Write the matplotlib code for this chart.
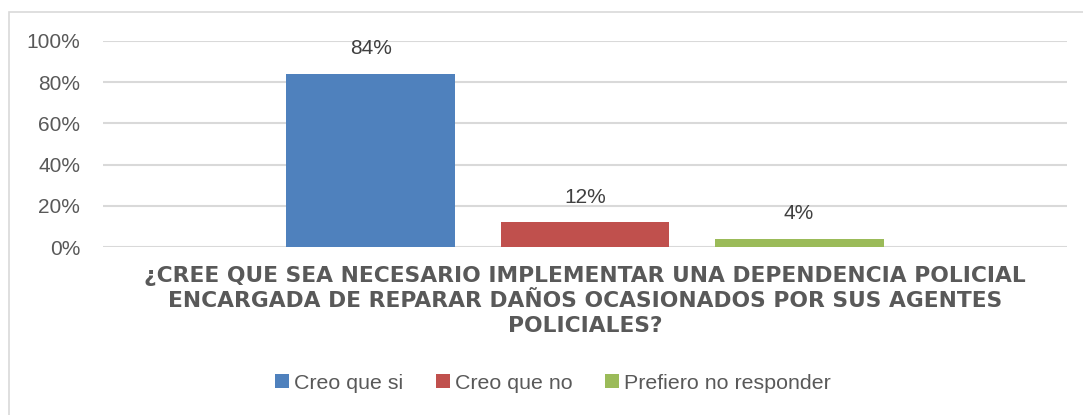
import matplotlib.pyplot as plt
from matplotlib.patches import Rectangle
from matplotlib.ticker import PercentFormatter

# data
question = ("¿CREE QUE SEA NECESARIO IMPLEMENTAR UNA DEPENDENCIA POLICIAL\n"
            "ENCARGADA DE REPARAR DAÑOS OCASIONADOS POR SUS AGENTES\n"
            "POLICIALES?")
series = ["Creo que si", "Creo que no", "Prefiero no responder"]
values = [0.84, 0.12, 0.04]
colors = ["#4F81BD", "#C0504D", "#9BBB59"]
yticks = [0, 0.2, 0.4, 0.6, 0.8, 1.0]

text_gray = "#595959"
plt.rcParams['font.family'] = ['Liberation Sans', 'DejaVu Sans']

fig = plt.figure(figsize=(10.83, 4.15), dpi=100)
fig.patches.append(Rectangle((9 / 1083, -0.05), 1.1, 1 - 12 / 415 + 0.05,
                             transform=fig.transFigure, fill=False,
                             edgecolor="#D9D9D9", linewidth=1.2))

ax = fig.add_axes([103 / 1083, 1 - 247 / 415, 964 / 1083, 206 / 415])

width = 0.1753
step = 0.222
for i, (name, val, col) in enumerate(zip(series, values, colors)):
    x = (i - 1) * step
    ax.bar(x, val, width=width, color=col, label=name, zorder=3)
    ax.annotate(f"{val:.0%}", (x, val), xytext=(0, 18), textcoords="offset points",
                ha="center", va="center", fontsize=15, color="#404040")

ax.set_xlim(-0.5, 0.5)
ax.set_ylim(0, 1)
ax.set_yticks(yticks)
ax.yaxis.set_major_formatter(PercentFormatter(1.0, decimals=0))
ax.set_xticks([])
ax.tick_params(axis="y", length=0, labelsize=15, labelcolor=text_gray, pad=16.5)
ax.grid(axis="y", color="#D9D9D9", linewidth=1.5, zorder=0)
for s in ax.spines.values():
    s.set_visible(False)

fig.text(585 / 1083, 1 - 301 / 415, question, ha="center", va="center",
         fontsize=15.7, fontweight="bold", color=text_gray, linespacing=1.32,
         family="DejaVu Sans")

handles, labels = ax.get_legend_handles_labels()
fig.legend(handles, labels, loc="center", bbox_to_anchor=(553 / 1083, 1 - 383 / 415),
           ncol=3, frameon=False, fontsize=15.4, handlelength=0.65, handleheight=0.65,
           handletextpad=0.25, columnspacing=1.5, labelcolor=text_gray)

fig.savefig("out.png", dpi=100)
